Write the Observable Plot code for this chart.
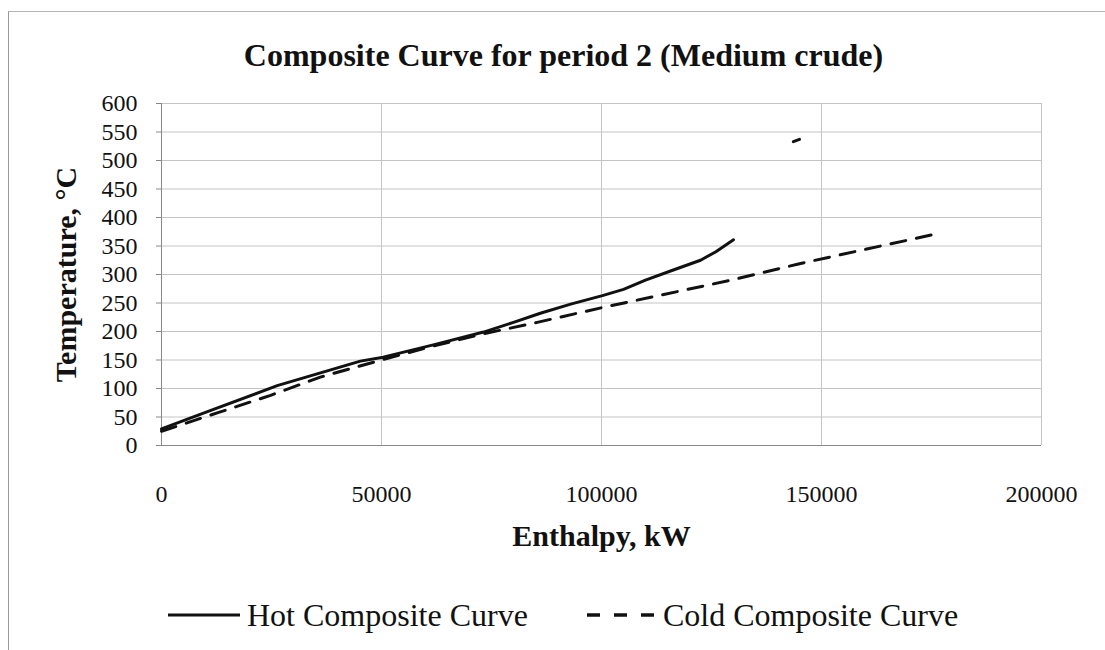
<!DOCTYPE html>
<html><head><meta charset="utf-8">
<script src="https://cdn.jsdelivr.net/npm/d3@7"></script>
<script src="https://cdn.jsdelivr.net/npm/@observablehq/plot@0.6"></script>
<style>
body{margin:0;background:#fff;font-family:"Liberation Serif","Times New Roman",serif;color:#111;}
#wrap{position:relative;width:1105px;height:650px;overflow:hidden;background:#fff;}
#frame{position:absolute;left:8px;top:11px;width:1110px;height:660px;border-left:1px solid #9a9a9a;border-top:1px solid #b5b5b5;pointer-events:none;}
#title{position:absolute;left:0;top:37px;width:1105px;padding-left:22px;box-sizing:border-box;line-height:36px;text-align:center;font-weight:bold;font-size:32px;}
#chart{position:absolute;left:0;top:80px;}
.leg{position:absolute;top:597px;height:36px;line-height:36px;font-size:32px;white-space:nowrap;}
.sw{position:absolute;top:600px;}
</style></head>
<body>
<div id="wrap">
  <div id="frame"></div>
  <div id="title">Composite Curve for period 2 (Medium crude)</div>
  <div id="chart"></div>
  <svg class="sw" style="left:168px" width="74" height="30"><line x1="0" y1="15" x2="72" y2="15" stroke="#111" stroke-width="3"/></svg>
  <div class="leg" style="left:247px">Hot Composite Curve</div>
  <svg class="sw" style="left:587px" width="70" height="30"><line x1="0" y1="15" x2="68" y2="15" stroke="#111" stroke-width="3.5" stroke-dasharray="13,14"/></svg>
  <div class="leg" style="left:663px">Cold Composite Curve</div>
</div>
<script>
// Hot composite curve (Enthalpy kW, Temperature °C)
const hotH = [0, 10000, 26300, 45200, 50400, 62000, 73200, 80000, 86100, 93000, 100200, 105000, 110000, 116000, 122500, 126000, 130000];
const hotT = [29, 58, 105, 148, 155, 177, 199, 216, 232, 248, 263, 274, 290, 307, 325, 340, 361];
// Cold composite curve
const coldH = [0, 13000, 24800, 36100, 50000, 62000, 73200, 85400, 100200, 130000, 145000, 176600];
const coldT = [25, 58, 88, 120, 150, 175, 196, 216, 242, 291, 319, 372];
// Stray short segment near top
const strayH = [143600, 145000];
const strayT = [533, 537];
// Axis ticks
const xTicks = [0, 50000, 100000, 150000, 200000];
const yTicks = [0, 50, 100, 150, 200, 250, 300, 350, 400, 450, 500, 550, 600];

const hot = hotH.map((h, i) => ({h, t: hotT[i]}));
const cold = coldH.map((h, i) => ({h, t: coldT[i]}));
const stray = strayH.map((h, i) => ({h, t: strayT[i]}));

const chart = Plot.plot({
  width: 1105,
  height: 500,
  marginTop: 23,
  marginBottom: 135,
  marginLeft: 161,
  marginRight: 64,
  style: {fontFamily: '"Liberation Serif","Times New Roman",serif', fontSize: "24px", color: "#111", background: "transparent"},
  x: {domain: [0, 200000]},
  y: {domain: [0, 600]},
  marks: [
    Plot.gridX(xTicks, {stroke: "#c4c4c4", strokeOpacity: 1}),
    Plot.gridY(yTicks, {stroke: "#c4c4c4", strokeOpacity: 1}),
    Plot.ruleX([0], {stroke: "#888"}),
    Plot.ruleY([0], {stroke: "#888"}),
    Plot.axisX({ticks: xTicks, tickSize: 0, tickPadding: 39, tickFormat: d => String(d), label: null, fontSize: 24}),
    Plot.axisY({ticks: yTicks, tickSize: 5, tickPadding: 19, tickFormat: d => String(d), label: null, fontSize: 24, stroke: "#888"}),
    Plot.line(cold, {x: "h", y: "t", stroke: "#111", strokeWidth: 3, strokeDasharray: "15,11"}),
    Plot.line(hot, {x: "h", y: "t", stroke: "#111", strokeWidth: 3}),
    Plot.line(stray, {x: "h", y: "t", stroke: "#111", strokeWidth: 3}),
    Plot.text(["Enthalpy, kW"], {frameAnchor: "bottom", dy: 100, text: d => d, fontSize: 30, fontWeight: "bold", fill: "#111"}),
    Plot.text(["Temperature, °C"], {frameAnchor: "left", textAnchor: "middle", dx: -95, rotate: -90, text: d => d, fontSize: 30, fontWeight: "bold", fill: "#111"})
  ]
});
document.getElementById("chart").appendChild(chart);
</script>
</body></html>
